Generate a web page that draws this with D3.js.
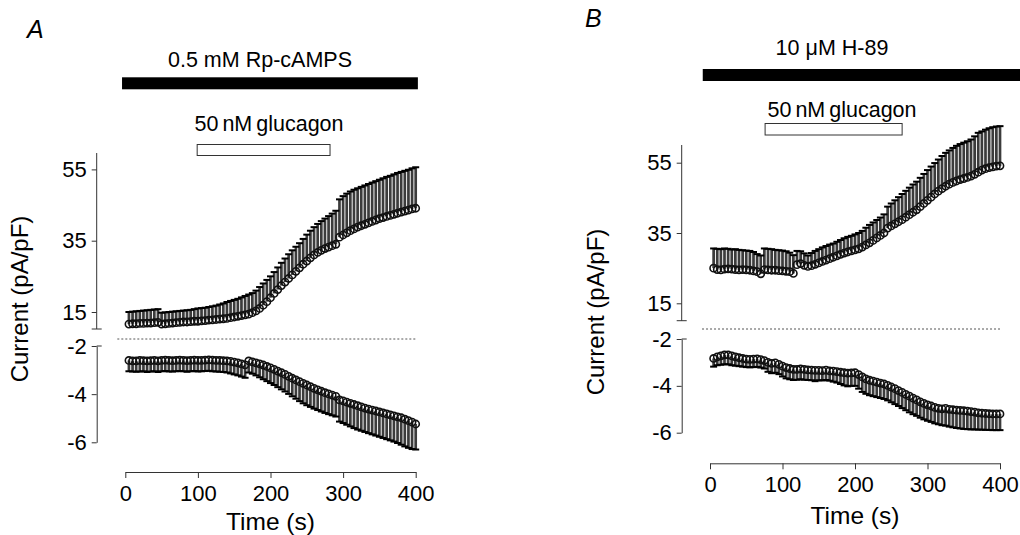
<!DOCTYPE html>
<html><head><meta charset="utf-8">
<script src="https://cdn.jsdelivr.net/npm/d3@7"></script>
<style>
body{margin:0;background:#fff}
svg{display:block}
text{font-family:"Liberation Sans",Arial,Helvetica,sans-serif;fill:#000}
</style>
</head><body>
<svg id="chart" width="1020" height="535"></svg>
<script>
// ---------- data ----------
const time = [5,10,15,20,25,30,35,40,45,50,55,60,65,70,75,80,85,90,95,100,
  105,110,115,120,125,130,135,140,145,150,155,160,165,170,175,180,185,190,195,200,
  205,210,215,220,225,230,235,240,245,250,255,260,265,270,275,280,285,290,295,300,
  305,310,315,320,325,330,335,340,345,350,355,360,365,370,375,380,385,390,395,400];

// Panel A (0.5 mM Rp-cAMPS)
const aUpMean = [11.6,11.7,11.7,11.8,11.8,11.9,11.9,12.0,12.1,11.6,11.7,11.8,11.9,12.0,12.1,12.2,12.2,12.3,12.4,12.4,
  12.5,12.6,12.7,12.8,12.9,13.0,13.1,13.2,13.4,13.6,13.8,14.0,14.2,14.4,14.8,15.3,16.0,16.9,17.9,19.0,
  20.2,21.3,22.4,23.4,24.4,25.4,26.4,27.4,28.4,29.3,30.2,31.0,31.7,32.3,32.8,33.2,33.6,34.0,36.0,36.6,
  37.2,37.8,38.3,38.8,39.2,39.6,40.0,40.4,40.8,41.2,41.5,41.8,42.1,42.4,42.7,43.0,43.3,43.6,43.9,44.1];
const aUpSem = [3.4,3.4,3.5,3.5,3.6,3.6,3.7,3.7,3.7,3.2,3.2,3.2,3.2,3.2,3.2,3.2,3.3,3.3,3.4,3.6,
  3.6,3.6,3.7,3.8,3.9,4.1,4.3,4.6,4.7,4.8,4.9,5.1,5.3,5.5,5.5,5.7,6.0,6.1,6.1,6.0,
  6.0,6.2,6.4,6.6,6.8,6.9,6.9,6.9,7.1,7.4,7.6,7.8,8.0,8.2,8.4,8.7,9.0,9.4,10.6,10.9,
  11.0,11.0,11.0,10.9,10.9,10.9,10.9,10.9,10.9,10.9,11.0,11.1,11.1,11.2,11.3,11.3,11.3,11.3,11.4,11.5];
const aLoMean = [-2.60,-2.62,-2.62,-2.60,-2.61,-2.62,-2.61,-2.60,-2.62,-2.60,-2.59,-2.60,-2.61,-2.60,-2.59,-2.60,-2.61,-2.60,-2.59,-2.60,
  -2.60,-2.59,-2.58,-2.59,-2.60,-2.60,-2.61,-2.62,-2.64,-2.67,-2.70,-2.74,-2.78,-2.62,-2.66,-2.70,-2.74,-2.79,-2.85,-2.91,
  -2.97,-3.04,-3.11,-3.18,-3.26,-3.34,-3.41,-3.48,-3.55,-3.62,-3.69,-3.76,-3.82,-3.88,-3.94,-3.99,-4.04,-4.09,-4.24,-4.28,
  -4.33,-4.38,-4.43,-4.48,-4.53,-4.58,-4.62,-4.66,-4.70,-4.74,-4.78,-4.82,-4.86,-4.90,-4.94,-4.98,-5.04,-5.10,-5.16,-5.24];
const aLoSem = [0.45,0.44,0.45,0.46,0.44,0.46,0.45,0.45,0.46,0.45,0.45,0.46,0.45,0.45,0.45,0.45,0.46,0.45,0.45,0.46,
  0.45,0.45,0.45,0.46,0.46,0.47,0.47,0.48,0.50,0.51,0.52,0.53,0.54,0.48,0.49,0.52,0.56,0.59,0.61,0.63,
  0.65,0.67,0.69,0.71,0.73,0.75,0.78,0.81,0.83,0.84,0.84,0.84,0.84,0.84,0.84,0.84,0.84,0.84,0.90,0.92,
  0.94,0.96,0.98,0.99,0.99,0.99,1.00,1.01,1.02,1.03,1.04,1.05,1.06,1.07,1.09,1.12,1.13,1.13,1.12,1.06];

// Panel B (10 uM H-89)
const bUpMean = [25.0,24.6,24.5,24.7,24.8,24.7,24.6,24.5,24.6,24.5,24.4,24.2,24.0,23.4,24.6,24.5,24.4,24.4,24.3,24.2,
  24.1,24.0,23.5,26.0,26.3,25.8,25.5,25.7,26.1,26.5,26.9,27.3,27.7,28.1,28.5,28.9,29.3,29.6,29.9,30.2,
  30.5,31.0,31.6,32.2,32.9,33.6,34.3,35.0,36.4,37.0,37.6,38.2,38.8,39.5,40.2,40.9,41.6,42.5,43.4,44.3,
  45.2,46.1,46.9,47.6,48.3,48.9,49.4,49.8,50.2,50.5,50.8,51.2,51.7,52.3,52.9,53.3,53.6,53.8,54.0,54.1];
const bUpSem = [5.6,5.9,5.9,5.9,5.7,5.6,5.8,5.7,5.5,5.5,5.5,5.4,5.0,5.2,6.0,6.0,6.0,5.8,5.8,5.8,
  5.7,5.4,5.2,3.9,3.5,3.4,3.1,3.6,3.8,3.9,4.0,4.0,4.0,3.9,4.0,4.1,4.2,4.3,4.3,4.4,
  4.5,4.6,4.9,5.1,5.1,5.1,5.1,5.3,6.1,6.4,6.7,7.0,7.3,7.5,7.7,7.9,8.0,8.2,8.4,8.6,
  8.7,8.8,9.0,9.3,9.5,9.6,9.8,10.0,10.1,10.2,10.3,10.4,10.8,11.2,11.0,11.1,11.2,11.3,11.3,11.3];
const bLoMean = [-2.83,-2.76,-2.72,-2.68,-2.68,-2.72,-2.76,-2.80,-2.83,-2.86,-2.87,-2.86,-2.85,-2.88,-2.92,-3.00,-3.04,-3.02,-3.08,-3.16,
  -3.22,-3.26,-3.30,-3.30,-3.28,-3.30,-3.32,-3.33,-3.34,-3.34,-3.35,-3.33,-3.36,-3.37,-3.39,-3.42,-3.44,-3.46,-3.45,-3.44,
  -3.52,-3.62,-3.70,-3.76,-3.80,-3.84,-3.88,-3.92,-3.98,-4.05,-4.12,-4.20,-4.28,-4.36,-4.44,-4.52,-4.60,-4.68,-4.75,-4.81,
  -4.86,-4.92,-4.96,-4.98,-4.96,-5.00,-5.02,-5.04,-5.05,-5.06,-5.08,-5.10,-5.12,-5.15,-5.17,-5.18,-5.19,-5.20,-5.20,-5.20];
const bLoSem = [0.35,0.36,0.38,0.40,0.40,0.40,0.38,0.36,0.35,0.34,0.34,0.34,0.34,0.34,0.34,0.40,0.42,0.42,0.42,0.44,
  0.46,0.46,0.45,0.44,0.44,0.44,0.43,0.43,0.46,0.42,0.42,0.42,0.42,0.45,0.47,0.50,0.54,0.56,0.55,0.56,
  0.60,0.64,0.64,0.64,0.64,0.64,0.64,0.64,0.64,0.65,0.66,0.66,0.67,0.68,0.69,0.69,0.68,0.68,0.68,0.68,
  0.68,0.68,0.68,0.70,0.74,0.74,0.75,0.76,0.77,0.78,0.77,0.76,0.74,0.72,0.70,0.70,0.69,0.69,0.69,0.69];

const xTicks = [0,100,200,300,400];
const upperTicks = [15,35,55];
const lowerTicks = [-2,-4,-6];
const panelLetters = ["A","B"];
const drugNames = ["0.5 mM Rp-cAMPS","10 \u03bcM H-89"];
const glucagonName = "50 nM glucagon";
const drugSpans = [[-4.5,403],[-10,430]];
const glucagonSpans = [[99,282],[76,265]];

// ---------- layout ----------
const panels = [
  {letter:panelLetters[0], drug:drugNames[0], drugSpan:drugSpans[0], glucSpan:glucagonSpans[0],
   upMean:aUpMean, upSem:aUpSem, loMean:aLoMean, loSem:aLoSem,
   xr:[125.3,415.7], axX:96.7, up:{r:[312,169.4], top:153, bot:329},
   lo:{r:[442.3,346]}, xAxY:472, dotY:339, xLabY:530,
   letterPos:[27,38], drugLab:[260,66.7], drugBar:[77.3,12], glucLab:[269,131], glucBar:[144.5,11],
   yLab:[28,299]},
  {letter:panelLetters[1], drug:drugNames[1], drugSpan:drugSpans[1], glucSpan:glucagonSpans[1],
   upMean:bUpMean, upSem:bUpSem, loMean:bLoMean, loSem:bLoSem,
   xr:[710,1000], axX:681.7, up:{r:[303.3,162.7], top:145, bot:320.7},
   lo:{r:[432.7,339]}, xAxY:463.3, dotY:329, xLabY:524,
   letterPos:[585,26.7], drugLab:[832,55], drugBar:[69,12], glucLab:[842,116.7], glucBar:[123.5,11.5],
   yLab:[604,312]}
];

const svg = d3.select("#chart");
const axisColor = "#333";
const fmt = d => String(d);

panels.forEach(p => {
  const g = svg.append("g");
  const x = d3.scaleLinear().domain([0,400]).range(p.xr);
  const yUp = d3.scaleLinear().domain([15,55]).range(p.up.r);
  const yLo = d3.scaleLinear().domain([-6,-2]).range(p.lo.r);

  // labels on top
  g.append("text").attr("x",p.letterPos[0]).attr("y",p.letterPos[1])
    .style("font-size","25px").style("font-style","italic").text(p.letter);
  g.append("text").attr("x",p.drugLab[0]).attr("y",p.drugLab[1]).attr("text-anchor","middle")
    .style("font-size","21.5px").text(p.drug);
  g.append("rect").attr("x",x(p.drugSpan[0])).attr("y",p.drugBar[0])
    .attr("width",x(p.drugSpan[1])-x(p.drugSpan[0])).attr("height",p.drugBar[1]).attr("fill","#000");
  g.append("text").attr("x",p.glucLab[0]).attr("y",p.glucLab[1]).attr("text-anchor","middle")
    .style("font-size","21.5px").style("word-spacing","-2px").text(glucagonName);
  g.append("rect").attr("x",x(p.glucSpan[0])).attr("y",p.glucBar[0])
    .attr("width",x(p.glucSpan[1])-x(p.glucSpan[0])).attr("height",p.glucBar[1])
    .attr("fill","#fff").attr("stroke","#333").attr("stroke-width",1);

  // dotted zero-break line
  g.append("line").attr("x1",x(-11)).attr("x2",x(400)).attr("y1",p.dotY).attr("y2",p.dotY)
    .attr("stroke","#555").attr("stroke-width",1).attr("stroke-dasharray","2,2");

  // upper y axis
  const ua = g.append("g").attr("transform",`translate(${p.axX},0)`)
    .call(d3.axisLeft(yUp).tickValues(upperTicks).tickFormat(fmt).tickSize(5).tickPadding(5).tickSizeOuter(0));
  ua.select(".domain").remove();
  ua.append("line").attr("x1",0).attr("x2",0).attr("y1",p.up.top).attr("y2",p.up.bot).attr("stroke",axisColor);
  ua.append("line").attr("x1",-5).attr("x2",5).attr("y1",p.up.bot).attr("y2",p.up.bot).attr("stroke",axisColor);

  // lower y axis
  const la = g.append("g").attr("transform",`translate(${p.axX},0)`)
    .call(d3.axisLeft(yLo).tickValues(lowerTicks).tickFormat(fmt).tickSize(5).tickPadding(5).tickSizeOuter(0));
  la.append("line").attr("x1",0).attr("x2",5).attr("y1",yLo(-2)).attr("y2",yLo(-2)).attr("stroke",axisColor);

  // x axis
  const xa = g.append("g").attr("transform",`translate(0,${p.xAxY})`)
    .call(d3.axisBottom(x).tickValues(xTicks).tickFormat(fmt).tickSize(6).tickPadding(7).tickSizeOuter(0));

  [ua,la,xa].forEach(a => {
    a.selectAll("path,line").attr("stroke",axisColor).attr("stroke-width",1);
    a.selectAll("text").style("font-size","22px").attr("fill","#000")
      .style("font-family","'Liberation Sans',Arial,sans-serif");
  });

  // axis titles
  g.append("text").attr("x",(p.xr[0]+p.xr[1])/2).attr("y",p.xLabY).attr("text-anchor","middle")
    .style("font-size","24.5px").text("Time (s)");
  g.append("text").attr("transform",`translate(${p.yLab[0]},${p.yLab[1]}) rotate(-90)`)
    .attr("text-anchor","middle").style("font-size","24px").text("Current (pA/pF)");

  // series
  function drawSeries(mean, sem, y, dir){
    const data = time.map((t,i)=>({t, m:mean[i], e:mean[i]+dir*sem[i]}));
    const s = g.append("g");
    s.selectAll(".stem").data(data).enter().append("line")
      .attr("x1",d=>x(d.t)).attr("x2",d=>x(d.t)).attr("y1",d=>y(d.m)).attr("y2",d=>y(d.e))
      .attr("stroke","#3c3c3c").attr("stroke-width",2.7);
    s.selectAll(".cap").data(data).enter().append("line")
      .attr("x1",d=>x(d.t)-3.5).attr("x2",d=>x(d.t)+3.5).attr("y1",d=>y(d.e)).attr("y2",d=>y(d.e))
      .attr("stroke","#000").attr("stroke-width",2);
    s.selectAll("circle").data(data).enter().append("circle")
      .attr("cx",d=>x(d.t)).attr("cy",d=>y(d.m)).attr("r",3.6)
      .attr("fill","none").attr("stroke","#111").attr("stroke-width",1.6);
  }
  drawSeries(p.upMean, p.upSem, yUp, 1);
  drawSeries(p.loMean, p.loSem, yLo, -1);
});
</script>
</body></html>
